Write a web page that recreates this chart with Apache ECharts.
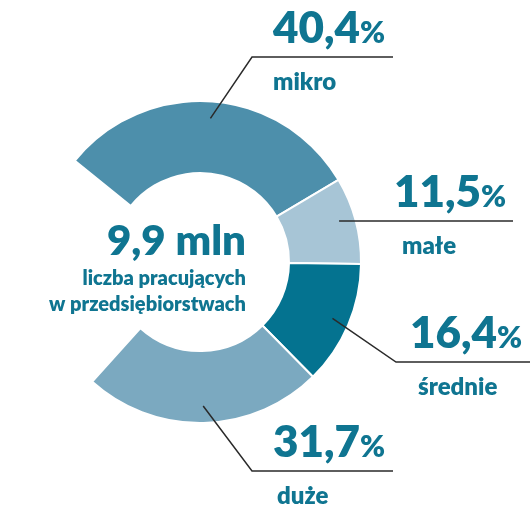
<!DOCTYPE html>
<html><head><meta charset="utf-8">
<script src="https://cdn.jsdelivr.net/npm/echarts@6/dist/echarts.min.js"></script>
<style>html,body{margin:0;padding:0;background:#fff}#c{width:530px;height:505px}</style>
</head><body><div id="c"></div>
<script>
// ---- data ----
const categories = ['mikro', 'małe', 'średnie', 'duże'];
const shares = [40.4, 11.5, 16.4, 31.7];
const centerValue = '9,9 mln';
const centerCaption = ['liczba pracujących', 'w przedsiębiorstwach'];

// ---- styling / layout ----
const colors = ['#4d8fab', '#a7c5d6', '#047390', '#7ba9c0'];
const TEXT = '#0f7591';
const FONT = 'Lato';
const NUM_W = 800;
const CX = 200, CY = 262, R_IN = 89, R_OUT = 161;
const START = 141, SWEEP = 273;
const labelPlaces = [
  { x: 273, lineY: 57, cornerX: 252, endX: 393, nameDx: 0 },
  { x: 394, lineY: 221, cornerX: null, endX: 513, nameDx: 8 },
  { x: 410, lineY: 362, cornerX: 396, endX: 530, nameDx: 8 },
  { x: 273, lineY: 471, cornerX: 252, endX: 393, nameDx: 4 }
];
const NUM_LH = 56, NAME_LH = 50;

const total = shares.reduce((a, b) => a + b, 0);
function midAngle(i) {
  let before = 0;
  for (let k = 0; k < i; k++) before += shares[k];
  const mid = before + shares[i] / 2;
  return (START - SWEEP * mid / total) * Math.PI / 180;
}

const rich = {
  v: { fontFamily: FONT, fontWeight: NUM_W, fontSize: 44, color: TEXT, lineHeight: NUM_LH },
  p: { fontFamily: FONT, fontWeight: NUM_W, fontSize: 30, color: TEXT, lineHeight: NUM_LH, padding: [8, 0, 0, 0] }
};
labelPlaces.forEach((pl, i) => {
  rich['n' + i] = { fontFamily: FONT, fontWeight: NUM_W, fontSize: 24, color: TEXT, lineHeight: NAME_LH, padding: [0, 0, 0, pl.nameDx] };
});

const pieData = categories.map((n, i) => ({ name: n, value: shares[i], itemStyle: { color: colors[i] } }));
const common = {
  type: 'pie',
  center: [CX, CY],
  radius: [R_IN, R_OUT],
  startAngle: START,
  endAngle: START - SWEEP,
  clockwise: true,
  avoidLabelOverlap: false,
  emphasis: { disabled: true }
};

const chart = echarts.init(document.getElementById('c'), null, { renderer: 'canvas' });
chart.setOption({
  animation: false,
  backgroundColor: '#fff',
  graphic: [
    { type: 'text', x: 246, y: 241, style: { text: centerValue, fontFamily: FONT, fontWeight: NUM_W, fontSize: 42, fill: TEXT, textAlign: 'right', textVerticalAlign: 'middle' } },
    { type: 'text', x: 246, y: 279, style: { text: centerCaption[0], fontFamily: FONT, fontWeight: NUM_W, fontSize: 20, fill: TEXT, textAlign: 'right', textVerticalAlign: 'middle' } },
    { type: 'text', x: 246, y: 305, style: { text: centerCaption[1], fontFamily: FONT, fontWeight: NUM_W, fontSize: 20, fill: TEXT, textAlign: 'right', textVerticalAlign: 'middle' } }
  ],
  series: [
    Object.assign({}, common, {
      z: 2,
      itemStyle: { borderColor: '#fff', borderWidth: 2 },
      label: { show: false },
      labelLine: { show: false },
      data: pieData
    }),
    Object.assign({}, common, {
      z: 5,
      silent: true,
      itemStyle: { color: 'rgba(0,0,0,0)', borderWidth: 0 },
      label: {
        show: true,
        position: 'outside',
        formatter: p => '{v|' + String(p.value).replace('.', ',') + '}{p|%}\n{n' + p.dataIndex + '|' + p.name + '}',
        rich: rich
      },
      labelLine: { show: true, lineStyle: { color: '#2a2a2a', width: 1.5 } },
      labelLayout: function (params) {
        const i = params.dataIndex;
        const pl = labelPlaces[i];
        const a = midAngle(i);
        const r = 144;
        const sx = CX + r * Math.cos(a), sy = CY - r * Math.sin(a);
        const pts = pl.cornerX == null
          ? [[sx, pl.lineY], [sx, pl.lineY], [pl.endX, pl.lineY]]
          : [[sx, sy], [pl.cornerX, pl.lineY], [pl.endX, pl.lineY]];
        return { x: pl.x, y: pl.lineY - NUM_LH, align: 'left', verticalAlign: 'top', labelLinePoints: pts };
      },
      data: categories.map((n, i) => ({ name: n, value: shares[i] }))
    })
  ]
});
</script>
</body></html>
